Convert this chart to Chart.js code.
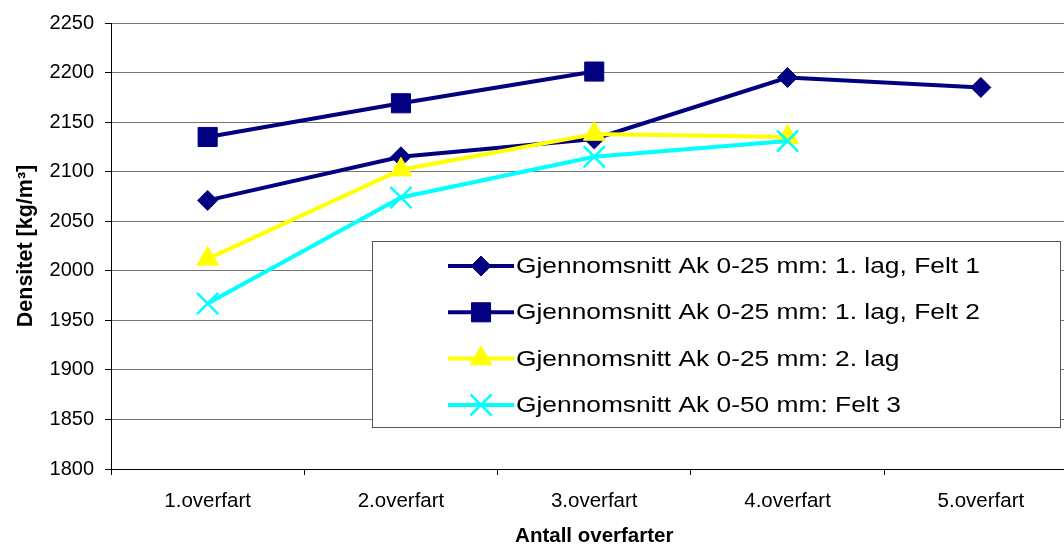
<!DOCTYPE html>
<html>
<head>
<meta charset="utf-8">
<script src="https://cdn.jsdelivr.net/npm/chart.js@4/dist/chart.umd.min.js"></script>
<style>
  html, body { margin: 0; padding: 0; overflow: hidden; background: #fff; }
  /* the plot runs past the right edge of the picture in the original */
  #wrap { position: relative; width: 1064px; height: 545px; overflow: hidden; }
  #densitetChart { position: absolute; left: 0; top: 0; }
</style>
</head>
<body>
<div id="wrap"><canvas id="densitetChart" width="1095" height="545"></canvas></div>
<script>
// data
var categories = ["1.overfart", "2.overfart", "3.overfart", "4.overfart", "5.overfart"];
var felt1Lag1 = [2071, 2115, 2133, 2195, 2185];
var felt2Lag1 = [2135, 2169, 2201, null, null];
var lag2 = [2012, 2102, 2138, 2135, null];
var felt3 = [1967, 2074, 2115, 2131, null];
var seriesNames = [
  "Gjennomsnitt Ak 0-25 mm: 1. lag, Felt 1",
  "Gjennomsnitt Ak 0-25 mm: 1. lag, Felt 2",
  "Gjennomsnitt Ak 0-25 mm: 2. lag",
  "Gjennomsnitt Ak 0-50 mm: Felt 3"
];
var yMin = 1800, yMax = 2250, yStep = 50;

var FONT = "'Liberation Sans', Arial, sans-serif";

function series(label, data, color, style, radius, order) {
  return {
    label: label,
    data: data,
    borderColor: color,
    backgroundColor: color,
    borderWidth: 4,
    tension: 0,
    pointStyle: style,
    pointRadius: radius,
    pointHoverRadius: radius,
    pointBackgroundColor: color,
    pointBorderColor: color,
    pointBorderWidth: style == "crossRot" ? 2.5 : 1,
    order: order
  };
}

// legend box drawn inside the plot, like the original
var boxLegend = {
  id: "boxLegend",
  afterDraw: function (chart) {
    var ctx = chart.ctx;
    ctx.save();
    ctx.fillStyle = "#fff";
    ctx.fillRect(372.5, 241.5, 688, 186);
    ctx.strokeStyle = "#555";
    ctx.lineWidth = 1;
    ctx.strokeRect(372.5, 241.5, 688, 186);
    chart.data.datasets.forEach(function (ds, i) {
      var y = 266 + i * 46.3;
      ctx.strokeStyle = ds.borderColor;
      ctx.lineWidth = ds.borderWidth;
      ctx.beginPath();
      ctx.moveTo(448, y);
      ctx.lineTo(514, y);
      ctx.stroke();
      ctx.fillStyle = ds.borderColor;
      ctx.strokeStyle = ds.borderColor;
      ctx.lineWidth = ds.pointBorderWidth;
      Chart.helpers.drawPoint(ctx, {
        pointStyle: ds.pointStyle,
        radius: ds.pointRadius,
        borderWidth: ds.pointBorderWidth,
        rotation: 0
      }, 481, y);
      // text in the original is wider than plain Arial
      ctx.save();
      ctx.translate(516, y + 1);
      ctx.scale(1.225, 1);
      ctx.fillStyle = "#000";
      ctx.font = "21.5px " + FONT;
      ctx.textBaseline = "middle";
      ctx.textAlign = "left";
      ctx.fillText(ds.label, 0, 0);
      ctx.restore();
    });
    ctx.restore();
  }
};

new Chart(document.getElementById("densitetChart"), {
  type: "line",
  data: {
    labels: categories,
    datasets: [
      series(seriesNames[0], felt1Lag1, "#000080", "rectRot", 10, 3),
      series(seriesNames[1], felt2Lag1, "#000080", "rect", 13.5, 2),
      series(seriesNames[2], lag2, "#FFFF00", "triangle", 12.5, 1),
      series(seriesNames[3], felt3, "#00FFFF", "crossRot", 15, 0)
    ]
  },
  options: {
    responsive: false,
    animation: false,
    layout: { padding: { left: 0, right: 2, top: 18, bottom: 0 } },
    plugins: { legend: { display: false }, tooltip: { enabled: false } },
    scales: {
      x: {
        offset: true,
        grid: { offset: true, drawOnChartArea: false, drawTicks: true, tickLength: 6, color: "#000" },
        border: { color: "#000", width: 1 },
        ticks: { color: "#000", font: { family: FONT, size: 20.5 }, padding: 14, maxRotation: 0 },
        title: { display: true, text: "Antall overfarter", color: "#000", font: { family: FONT, size: 20.5, weight: "bold", lineHeight: 1 }, padding: { top: 6, bottom: -2 } },
        afterFit: function (scale) { scale.height = 76; }
      },
      y: {
        min: yMin,
        max: yMax,
        ticks: {
          stepSize: yStep, color: "#000", font: { family: FONT, size: 20 }, padding: 11,
          callback: function (v) { return String(v); }
        },
        grid: { color: "#777", tickLength: 6, tickColor: "#000" },
        border: { color: "#000", width: 1 },
        title: { display: true, text: "Densitet [kg/m³]", color: "#000", font: { family: FONT, size: 21.5, weight: "bold" }, padding: { top: 13, bottom: 0 } },
        afterFit: function (scale) { scale.width = 111; }
      }
    }
  },
  plugins: [boxLegend]
});
</script>
</body>
</html>
